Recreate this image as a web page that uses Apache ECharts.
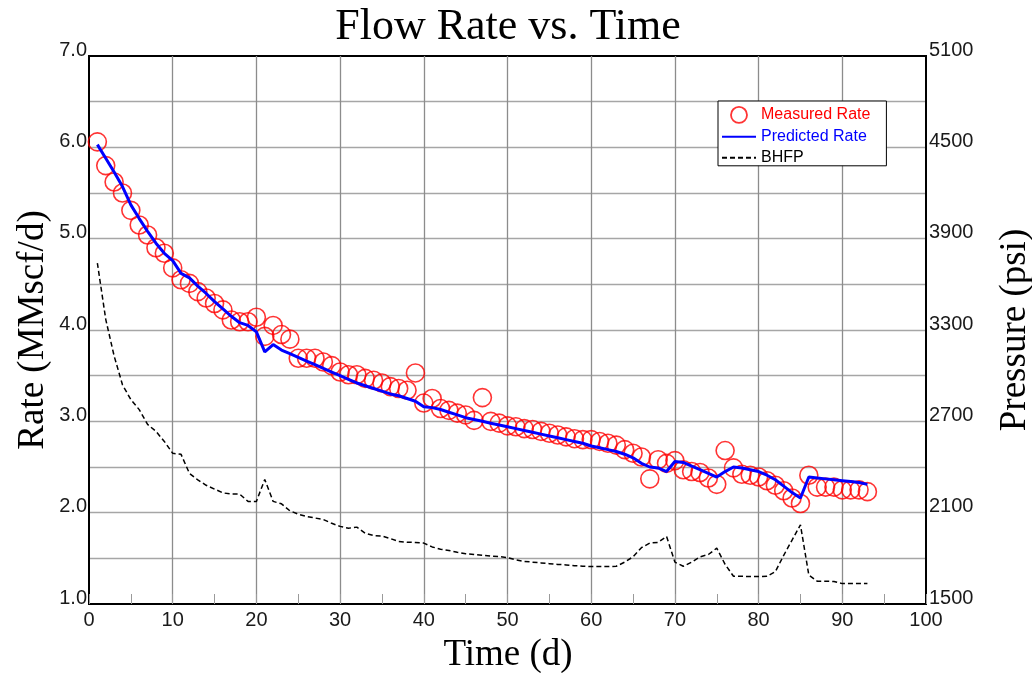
<!DOCTYPE html>
<html>
<head>
<meta charset="utf-8">
<title>Flow Rate vs. Time</title>
<script src="https://cdn.jsdelivr.net/npm/echarts@6/dist/echarts.min.js"></script>
<style>
  html, body { margin: 0; padding: 0; background: #ffffff; }
  #chart { width: 1032px; height: 673px; }
</style>
</head>
<body>
<div id="chart"></div>
<script>
// Production day for every sample
const days = [
  1, 2, 3, 4, 5, 6, 7, 8, 9, 10, 11, 12, 13, 14, 15, 16, 17, 18, 19, 20,
  21, 22, 23, 24, 25, 26, 27, 28, 29, 30, 31, 32, 33, 34, 35, 36, 37, 38, 39, 40,
  41, 42, 43, 44, 45, 46, 47, 48, 49, 50, 51, 52, 53, 54, 55, 56, 57, 58, 59, 60,
  61, 62, 63, 64, 65, 66, 67, 68, 69, 70, 71, 72, 73, 74, 75, 76, 77, 78, 79, 80,
  81, 82, 83, 84, 85, 86, 87, 88, 89, 90, 91, 92, 93
];

// Measured gas rate, MMscf/d
const measuredRate = [
  6.06, 5.80, 5.62, 5.50, 5.31, 5.15, 5.04, 4.90, 4.84, 4.68,
  4.55, 4.51, 4.42, 4.35, 4.29, 4.22, 4.11, 4.09, 4.09, 4.14,
  3.93, 4.05, 3.95, 3.90, 3.69, 3.69, 3.69, 3.65, 3.61, 3.54,
  3.51, 3.51, 3.47, 3.45, 3.42, 3.38, 3.36, 3.34, 3.53, 3.20,
  3.25, 3.14, 3.12, 3.09, 3.07, 3.01, 3.26, 3.00, 2.98, 2.95,
  2.94, 2.92, 2.91, 2.89, 2.87, 2.85, 2.83, 2.81, 2.80, 2.80,
  2.78, 2.76, 2.74, 2.69, 2.65, 2.61, 2.37, 2.58, 2.54, 2.57,
  2.47, 2.45, 2.44, 2.38, 2.31, 2.68, 2.49, 2.42, 2.41, 2.39,
  2.35, 2.30, 2.24, 2.16, 2.10, 2.41, 2.28, 2.28, 2.28, 2.25,
  2.25, 2.25, 2.23
];

// Model-predicted gas rate, MMscf/d
const predictedRate = [
  6.03, 5.88, 5.73, 5.57, 5.37, 5.22, 5.08, 4.95, 4.84, 4.76,
  4.62, 4.57, 4.48, 4.40, 4.31, 4.23, 4.15, 4.08, 4.05, 3.98,
  3.76, 3.84, 3.78, 3.74, 3.70, 3.66, 3.62, 3.58, 3.54, 3.50,
  3.46, 3.42, 3.39, 3.36, 3.33, 3.30, 3.28, 3.25, 3.22, 3.16,
  3.15, 3.13, 3.10, 3.07, 3.04, 3.02, 3.00, 2.98, 2.96, 2.94,
  2.92, 2.90, 2.88, 2.86, 2.84, 2.82, 2.80, 2.78, 2.76, 2.73,
  2.71, 2.69, 2.67, 2.64, 2.60, 2.54, 2.50, 2.49, 2.45, 2.56,
  2.55, 2.51, 2.47, 2.43, 2.39, 2.45, 2.50, 2.49, 2.47, 2.45,
  2.41, 2.36, 2.29, 2.22, 2.16, 2.39, 2.38, 2.37, 2.36, 2.35,
  2.34, 2.33, 2.31
];

// Bottom-hole flowing pressure, psi
const bhfp = [
  3740, 3370, 3130, 2940, 2843, 2777, 2680, 2634, 2568, 2490,
  2483, 2358, 2315, 2280, 2255, 2230, 2222, 2222, 2174, 2174,
  2318, 2174, 2158, 2112, 2090, 2075, 2065, 2055, 2030, 2010,
  1998, 2005, 1965, 1950, 1946, 1930, 1911, 1906, 1904, 1900,
  1875, 1860, 1852, 1840, 1830, 1825, 1820, 1815, 1811, 1805,
  1790, 1780, 1775, 1770, 1765, 1760, 1757, 1752, 1748, 1746,
  1746, 1746, 1748, 1775, 1810, 1870, 1900, 1905, 1944, 1775,
  1748, 1775, 1810, 1825, 1867, 1760, 1682, 1682, 1680, 1680,
  1682, 1712, 1820, 1920, 2020, 1690, 1650, 1650, 1648, 1634,
  1634, 1634, 1634
];

const labelFont = 'Liberation Sans';
const serifFont = 'Liberation Serif';
const hiddenMarker = { color: 'rgba(0,0,0,0)', borderColor: 'rgba(0,0,0,0)', borderWidth: 0 };

const chart = echarts.init(document.getElementById('chart'), null, { renderer: 'canvas' });

const pair = (vals) => days.map((d, i) => [d, vals[i]]);

chart.setOption({
  animation: false,
  backgroundColor: '#ffffff',
  grid: {
    left: 89, top: 56, width: 837, height: 548,
    show: true, borderColor: '#000000', borderWidth: 2, backgroundColor: 'transparent'
  },
  xAxis: {
    type: 'value', min: 0, max: 100, interval: 10,
    axisLine: { lineStyle: { color: '#000000', width: 2 } },
    axisTick: { show: true, inside: true, length: 10, lineStyle: { color: '#9a9a9a', width: 1 } },
    minorTick: { show: true, splitNumber: 2, length: 10, lineStyle: { color: '#9a9a9a', width: 1 } },
    axisLabel: { color: '#1a1a1a', fontSize: 20, fontFamily: labelFont, margin: 6 },
    splitLine: { show: true, showMinLine: false, showMaxLine: false, lineStyle: { color: '#8c8c8c', width: 1.3 } }
  },
  yAxis: [
    {
      type: 'value', min: 1, max: 7, interval: 0.5, position: 'left',
      axisLine: { show: true, lineStyle: { color: '#000000', width: 2 } },
      axisTick: { show: false },
      axisLabel: {
        color: '#1a1a1a', fontSize: 20, fontFamily: labelFont, margin: 2,
        verticalAlign: 'bottom', lineHeight: 12,
        formatter: (v) => (Math.abs(v - Math.round(v)) < 1e-6 ? v.toFixed(1) : '')
      },
      splitLine: { show: true, showMinLine: false, showMaxLine: false, lineStyle: { color: '#a6a6a6', width: 1.3 } }
    },
    {
      type: 'value', min: 1500, max: 5100, interval: 300, position: 'right',
      axisLine: { show: true, lineStyle: { color: '#000000', width: 2 } },
      axisTick: { show: false },
      axisLabel: {
        color: '#1a1a1a', fontSize: 20, fontFamily: labelFont, margin: 3,
        verticalAlign: 'bottom', lineHeight: 12,
        formatter: (v) => ((v - 1500) % 600 === 0 ? String(v) : '')
      },
      splitLine: { show: false }
    }
  ],
  legend: {
    orient: 'vertical', left: 718, top: 101,
    padding: [5, 16, 0, 3], itemGap: 5, itemWidth: 34, itemHeight: 16,
    backgroundColor: '#ffffff', borderColor: '#000000', borderWidth: 1, borderRadius: 0,
    textStyle: { fontSize: 16, fontFamily: labelFont },
    data: [
      { name: 'Measured Rate', icon: 'circle', textStyle: { color: '#ff0000' },
        itemStyle: { color: 'rgba(0,0,0,0)', borderColor: '#ff0000', borderWidth: 1.8 } },
      { name: 'Predicted Rate', textStyle: { color: '#0000ff' }, itemStyle: hiddenMarker },
      { name: 'BHFP', textStyle: { color: '#000000' }, itemStyle: hiddenMarker }
    ]
  },
  series: [
    {
      name: 'Measured Rate', type: 'scatter', yAxisIndex: 0,
      data: pair(measuredRate),
      symbol: 'circle', symbolSize: 18,
      itemStyle: { color: 'rgba(0,0,0,0)', borderColor: '#ff0000', borderWidth: 1.6 },
      z: 2
    },
    {
      name: 'Predicted Rate', type: 'line', yAxisIndex: 0,
      data: pair(predictedRate),
      symbol: 'none', showSymbol: false,
      lineStyle: { color: '#0000ff', width: 3 },
      itemStyle: { color: '#0000ff' },
      z: 3
    },
    {
      name: 'BHFP', type: 'line', yAxisIndex: 1,
      data: pair(bhfp),
      symbol: 'none', showSymbol: false,
      lineStyle: { color: '#000000', width: 1.5, type: [5, 3] },
      itemStyle: { color: '#000000' },
      z: 3
    }
  ],
  graphic: [
    { type: 'text', x: 508, y: 27, silent: true,
      style: { text: 'Flow Rate vs. Time', fill: '#000000', fontSize: 44, fontFamily: serifFont, align: 'center', verticalAlign: 'middle' } },
    { type: 'text', x: 508, y: 655, silent: true,
      style: { text: 'Time (d)', fill: '#000000', fontSize: 37, fontFamily: serifFont, align: 'center', verticalAlign: 'middle' } },
    { type: 'text', x: 33, y: 330, rotation: Math.PI / 2, silent: true,
      style: { text: 'Rate (MMscf/d)', fill: '#000000', fontSize: 37, fontFamily: serifFont, align: 'center', verticalAlign: 'middle' } },
    { type: 'text', x: 1015, y: 330, rotation: Math.PI / 2, silent: true,
      style: { text: 'Pressure (psi)', fill: '#000000', fontSize: 37, fontFamily: serifFont, align: 'center', verticalAlign: 'middle' } }
  ]
});
</script>
</body>
</html>
